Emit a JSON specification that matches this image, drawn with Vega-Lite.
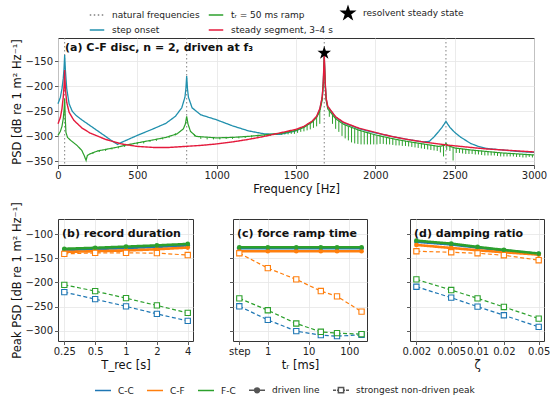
{
  "$schema": "https://vega.github.io/schema/vega-lite/v6.json",
  "padding": {"left": 10, "top": 4, "right": 0, "bottom": 0},
  "config": {
    "font": "DejaVu Sans",
    "background": "white",
    "view": {"stroke": "#333333", "strokeWidth": 1},
    "axis": {
      "labelFontSize": 10, "labelColor": "#222222", "titleFontSize": 11.5, "titleFontWeight": "normal",
      "titleColor": "#111111", "tickColor": "#333333", "tickSize": 3.5, "tickWidth": 0.8, "domain": false,
      "grid": true, "gridColor": "#e6e6e6", "gridWidth": 0.8, "labelPadding": 2, "titlePadding": 3,
      "labelFlush": false, "labelOverlap": false, "labelBound": false, "labelSeparation": 0, "tickCount": 12
    },
    "legend": {"labelFontSize": 9, "labelColor": "#222222", "symbolStrokeWidth": 1.5},
    "title": {"fontSize": 11, "fontWeight": "bold", "anchor": "start", "frame": "group", "color": "#111111", "offset": 0}
  },
  "datasets": {
    "nat": [
      {"s": "nat", "f": 42}, {"s": "nat", "f": 811}, {"s": "nat", "f": 1678}, {"s": "nat", "f": 2445}
    ],
    "star": [{"s": "star", "f": 1678, "p": -134}],
    "psd": [
      {"s": "step", "f": 0, "p": -235}, {"s": "step", "f": 15, "p": -222}, {"s": "step", "f": 25, "p": -205},
      {"s": "step", "f": 33, "p": -185}, {"s": "step", "f": 38, "p": -165}, {"s": "step", "f": 41, "p": -145},
      {"s": "step", "f": 42, "p": -138}, {"s": "step", "f": 43, "p": -145}, {"s": "step", "f": 47, "p": -170},
      {"s": "step", "f": 55, "p": -205}, {"s": "step", "f": 70, "p": -235}, {"s": "step", "f": 90, "p": -250},
      {"s": "step", "f": 113, "p": -258}, {"s": "step", "f": 150, "p": -267}, {"s": "step", "f": 200, "p": -278},
      {"s": "step", "f": 250, "p": -289}, {"s": "step", "f": 300, "p": -300}, {"s": "step", "f": 340, "p": -309},
      {"s": "step", "f": 375, "p": -316}, {"s": "step", "f": 400, "p": -312}, {"s": "step", "f": 450, "p": -305},
      {"s": "step", "f": 500, "p": -298}, {"s": "step", "f": 600, "p": -285}, {"s": "step", "f": 680, "p": -274},
      {"s": "step", "f": 740, "p": -260}, {"s": "step", "f": 780, "p": -243}, {"s": "step", "f": 800, "p": -222},
      {"s": "step", "f": 806, "p": -205}, {"s": "step", "f": 811, "p": -180}, {"s": "step", "f": 816, "p": -205},
      {"s": "step", "f": 822, "p": -222}, {"s": "step", "f": 845, "p": -243}, {"s": "step", "f": 900, "p": -257},
      {"s": "step", "f": 1000, "p": -267}, {"s": "step", "f": 1100, "p": -279}, {"s": "step", "f": 1200, "p": -289},
      {"s": "step", "f": 1300, "p": -295}, {"s": "step", "f": 1400, "p": -296}, {"s": "step", "f": 1500, "p": -289},
      {"s": "step", "f": 1550, "p": -281}, {"s": "step", "f": 1600, "p": -271}, {"s": "step", "f": 1630, "p": -261},
      {"s": "step", "f": 1650, "p": -246}, {"s": "step", "f": 1665, "p": -223}, {"s": "step", "f": 1672, "p": -193},
      {"s": "step", "f": 1678, "p": -140}, {"s": "step", "f": 1684, "p": -193}, {"s": "step", "f": 1690, "p": -225},
      {"s": "step", "f": 1700, "p": -241}, {"s": "step", "f": 1750, "p": -262}, {"s": "step", "f": 1800, "p": -273},
      {"s": "step", "f": 1900, "p": -285}, {"s": "step", "f": 2000, "p": -293}, {"s": "step", "f": 2100, "p": -300},
      {"s": "step", "f": 2200, "p": -306}, {"s": "step", "f": 2300, "p": -311}, {"s": "step", "f": 2340, "p": -310},
      {"s": "step", "f": 2370, "p": -301}, {"s": "step", "f": 2400, "p": -290}, {"s": "step", "f": 2420, "p": -282},
      {"s": "step", "f": 2435, "p": -275}, {"s": "step", "f": 2445, "p": -270}, {"s": "step", "f": 2455, "p": -275},
      {"s": "step", "f": 2470, "p": -282}, {"s": "step", "f": 2500, "p": -292}, {"s": "step", "f": 2540, "p": -302},
      {"s": "step", "f": 2600, "p": -314}, {"s": "step", "f": 2650, "p": -320}, {"s": "step", "f": 2700, "p": -324},
      {"s": "step", "f": 2800, "p": -327}, {"s": "step", "f": 2900, "p": -330}, {"s": "step", "f": 3000, "p": -332},

      {"s": "ramp", "f": 0, "p": -298}, {"s": "ramp", "f": 15, "p": -290}, {"s": "ramp", "f": 25, "p": -280},
      {"s": "ramp", "f": 33, "p": -265}, {"s": "ramp", "f": 38, "p": -248}, {"s": "ramp", "f": 41, "p": -232},
      {"s": "ramp", "f": 42, "p": -225}, {"s": "ramp", "f": 43, "p": -235}, {"s": "ramp", "f": 46, "p": -265},
      {"s": "ramp", "f": 50, "p": -292}, {"s": "ramp", "f": 60, "p": -302}, {"s": "ramp", "f": 80, "p": -308},
      {"s": "ramp", "f": 120, "p": -318}, {"s": "ramp", "f": 150, "p": -328}, {"s": "ramp", "f": 165, "p": -338},
      {"s": "ramp", "f": 177, "p": -348}, {"s": "ramp", "f": 185, "p": -338}, {"s": "ramp", "f": 200, "p": -335},
      {"s": "ramp", "f": 250, "p": -329}, {"s": "ramp", "f": 300, "p": -326}, {"s": "ramp", "f": 365, "p": -322},
      {"s": "ramp", "f": 450, "p": -316}, {"s": "ramp", "f": 500, "p": -313}, {"s": "ramp", "f": 600, "p": -307},
      {"s": "ramp", "f": 680, "p": -302}, {"s": "ramp", "f": 750, "p": -295}, {"s": "ramp", "f": 790, "p": -285},
      {"s": "ramp", "f": 803, "p": -275}, {"s": "ramp", "f": 811, "p": -260}, {"s": "ramp", "f": 819, "p": -275},
      {"s": "ramp", "f": 835, "p": -290}, {"s": "ramp", "f": 870, "p": -300}, {"s": "ramp", "f": 1000, "p": -303},
      {"s": "ramp", "f": 1100, "p": -302}, {"s": "ramp", "f": 1200, "p": -300}, {"s": "ramp", "f": 1300, "p": -297},
      {"s": "ramp", "f": 1400, "p": -294}, {"s": "ramp", "f": 1500, "p": -288}, {"s": "ramp", "f": 1550, "p": -282},
      {"s": "ramp", "f": 1600, "p": -272}, {"s": "ramp", "f": 1630, "p": -262}, {"s": "ramp", "f": 1650, "p": -250},
      {"s": "ramp", "f": 1665, "p": -228}, {"s": "ramp", "f": 1672, "p": -195}, {"s": "ramp", "f": 1678, "p": -141},
      {"s": "ramp", "f": 1684, "p": -195}, {"s": "ramp", "f": 1690, "p": -228}, {"s": "ramp", "f": 1700, "p": -245},
      {"s": "ramp", "f": 1750, "p": -265}, {"s": "ramp", "f": 1800, "p": -276}, {"s": "ramp", "f": 1900, "p": -288},
      {"s": "ramp", "f": 2000, "p": -297}, {"s": "ramp", "f": 2100, "p": -304}, {"s": "ramp", "f": 2200, "p": -310},
      {"s": "ramp", "f": 2300, "p": -315}, {"s": "ramp", "f": 2400, "p": -320}, {"s": "ramp", "f": 2435, "p": -318},
      {"s": "ramp", "f": 2445, "p": -314}, {"s": "ramp", "f": 2455, "p": -318}, {"s": "ramp", "f": 2500, "p": -323},
      {"s": "ramp", "f": 2600, "p": -327}, {"s": "ramp", "f": 2700, "p": -330}, {"s": "ramp", "f": 2800, "p": -333},
      {"s": "ramp", "f": 2900, "p": -335}, {"s": "ramp", "f": 3000, "p": -337},

      {"s": "steady", "f": 0, "p": -275}, {"s": "steady", "f": 15, "p": -262}, {"s": "steady", "f": 25, "p": -245},
      {"s": "steady", "f": 33, "p": -222}, {"s": "steady", "f": 38, "p": -200}, {"s": "steady", "f": 41, "p": -180},
      {"s": "steady", "f": 42, "p": -168}, {"s": "steady", "f": 43, "p": -180}, {"s": "steady", "f": 47, "p": -207},
      {"s": "steady", "f": 55, "p": -232}, {"s": "steady", "f": 70, "p": -252}, {"s": "steady", "f": 100, "p": -268},
      {"s": "steady", "f": 150, "p": -283}, {"s": "steady", "f": 200, "p": -293}, {"s": "steady", "f": 300, "p": -306},
      {"s": "steady", "f": 400, "p": -315}, {"s": "steady", "f": 500, "p": -320}, {"s": "steady", "f": 600, "p": -322},
      {"s": "steady", "f": 700, "p": -322}, {"s": "steady", "f": 800, "p": -320}, {"s": "steady", "f": 900, "p": -318},
      {"s": "steady", "f": 1000, "p": -315}, {"s": "steady", "f": 1100, "p": -311}, {"s": "steady", "f": 1200, "p": -306},
      {"s": "steady", "f": 1300, "p": -300}, {"s": "steady", "f": 1400, "p": -293}, {"s": "steady", "f": 1500, "p": -286},
      {"s": "steady", "f": 1550, "p": -280}, {"s": "steady", "f": 1600, "p": -270}, {"s": "steady", "f": 1630, "p": -260},
      {"s": "steady", "f": 1650, "p": -245}, {"s": "steady", "f": 1665, "p": -222}, {"s": "steady", "f": 1672, "p": -192},
      {"s": "steady", "f": 1678, "p": -138}, {"s": "steady", "f": 1684, "p": -192}, {"s": "steady", "f": 1690, "p": -224},
      {"s": "steady", "f": 1700, "p": -240}, {"s": "steady", "f": 1750, "p": -261}, {"s": "steady", "f": 1800, "p": -272},
      {"s": "steady", "f": 1900, "p": -284}, {"s": "steady", "f": 2000, "p": -292}, {"s": "steady", "f": 2100, "p": -300},
      {"s": "steady", "f": 2200, "p": -306}, {"s": "steady", "f": 2300, "p": -311}, {"s": "steady", "f": 2445, "p": -317},
      {"s": "steady", "f": 2600, "p": -322}, {"s": "steady", "f": 2700, "p": -325}, {"s": "steady", "f": 2800, "p": -327},
      {"s": "steady", "f": 2900, "p": -329}, {"s": "steady", "f": 3000, "p": -331}
    ],
    "teeth": [
      {"f": 220, "t": -332, "b": -335}, {"f": 260, "t": -328, "b": -331}, {"f": 300, "t": -325, "b": -329},
      {"f": 340, "t": -323, "b": -326}, {"f": 380, "t": -320, "b": -324}, {"f": 420, "t": -317, "b": -321},
      {"f": 460, "t": -315, "b": -319}, {"f": 500, "t": -312, "b": -316}, {"f": 540, "t": -310, "b": -314},
      {"f": 580, "t": -307, "b": -311}, {"f": 620, "t": -305, "b": -309}, {"f": 660, "t": -302, "b": -306},
      {"f": 700, "t": -299, "b": -303}, {"f": 740, "t": -294, "b": -298}, {"f": 860, "t": -296, "b": -300},
      {"f": 900, "t": -301, "b": -305}, {"f": 940, "t": -302, "b": -306}, {"f": 980, "t": -302, "b": -306},
      {"f": 1020, "t": -302, "b": -306}, {"f": 1060, "t": -301, "b": -305}, {"f": 1100, "t": -301, "b": -305},
      {"f": 1140, "t": -300, "b": -304}, {"f": 1180, "t": -299, "b": -303}, {"f": 1220, "t": -298, "b": -302},
      {"f": 1260, "t": -297, "b": -301}, {"f": 1300, "t": -296, "b": -300}, {"f": 1340, "t": -295, "b": -299},
      {"f": 1380, "t": -293, "b": -297},
      {"f": 1410, "t": -293, "b": -297}, {"f": 1430, "t": -292, "b": -296}, {"f": 1450, "t": -291, "b": -296},
      {"f": 1470, "t": -290, "b": -295}, {"f": 1490, "t": -289, "b": -295}, {"f": 1510, "t": -287, "b": -293},
      {"f": 1530, "t": -284, "b": -291}, {"f": 1550, "t": -282, "b": -290}, {"f": 1570, "t": -278, "b": -288},
      {"f": 1590, "t": -274, "b": -286}, {"f": 1610, "t": -269, "b": -283}, {"f": 1630, "t": -262, "b": -280},
      {"f": 1650, "t": -250, "b": -275}, {"f": 1710, "t": -249, "b": -261}, {"f": 1730, "t": -257, "b": -275},
      {"f": 1750, "t": -265, "b": -285}, {"f": 1770, "t": -269, "b": -291}, {"f": 1790, "t": -274, "b": -299},
      {"f": 1810, "t": -277, "b": -304}, {"f": 1830, "t": -280, "b": -308}, {"f": 1850, "t": -282, "b": -312},
      {"f": 1870, "t": -284, "b": -314}, {"f": 1890, "t": -287, "b": -315}, {"f": 1910, "t": -289, "b": -316},
      {"f": 1930, "t": -291, "b": -316}, {"f": 1950, "t": -292, "b": -316}, {"f": 1970, "t": -294, "b": -316},
      {"f": 1990, "t": -296, "b": -316}, {"f": 2010, "t": -298, "b": -316}, {"f": 2030, "t": -299, "b": -315},
      {"f": 2050, "t": -300, "b": -315}, {"f": 2070, "t": -302, "b": -316}, {"f": 2090, "t": -303, "b": -316},
      {"f": 2110, "t": -305, "b": -317}, {"f": 2130, "t": -306, "b": -318}, {"f": 2150, "t": -307, "b": -318},
      {"f": 2170, "t": -308, "b": -319}, {"f": 2190, "t": -309, "b": -319}, {"f": 2210, "t": -310, "b": -320},
      {"f": 2230, "t": -311, "b": -321}, {"f": 2250, "t": -312, "b": -322}, {"f": 2270, "t": -313, "b": -323},
      {"f": 2290, "t": -314, "b": -324}, {"f": 2310, "t": -315, "b": -325}, {"f": 2330, "t": -316, "b": -326},
      {"f": 2350, "t": -317, "b": -327}, {"f": 2370, "t": -318, "b": -328}, {"f": 2390, "t": -319, "b": -329},
      {"f": 2410, "t": -320, "b": -332}, {"f": 2430, "t": -318, "b": -340}, {"f": 2450, "t": -315, "b": -327},
      {"f": 2470, "t": -319, "b": -329}, {"f": 2490, "t": -322, "b": -348}, {"f": 2510, "t": -323, "b": -333},
      {"f": 2530, "t": -324, "b": -333}, {"f": 2550, "t": -325, "b": -334}, {"f": 2570, "t": -326, "b": -335},
      {"f": 2590, "t": -326, "b": -335}, {"f": 2610, "t": -327, "b": -335}, {"f": 2630, "t": -328, "b": -336},
      {"f": 2650, "t": -328, "b": -336}, {"f": 2670, "t": -329, "b": -337}, {"f": 2690, "t": -330, "b": -338},
      {"f": 2710, "t": -330, "b": -338}, {"f": 2730, "t": -331, "b": -338}, {"f": 2750, "t": -331, "b": -338},
      {"f": 2770, "t": -332, "b": -339}, {"f": 2790, "t": -333, "b": -340}, {"f": 2810, "t": -333, "b": -340},
      {"f": 2830, "t": -334, "b": -340}, {"f": 2850, "t": -334, "b": -340}, {"f": 2870, "t": -334, "b": -340},
      {"f": 2890, "t": -335, "b": -341}, {"f": 2910, "t": -335, "b": -341}, {"f": 2930, "t": -336, "b": -342},
      {"f": 2950, "t": -336, "b": -342}, {"f": 2970, "t": -336, "b": -341}, {"f": 2990, "t": -337, "b": -342}
    ],
    "peaks": [
      {"p": "b", "c": "C-C", "k": "d", "x": 0.25, "y": -133}, {"p": "b", "c": "C-C", "k": "d", "x": 0.5, "y": -131},
      {"p": "b", "c": "C-C", "k": "d", "x": 1, "y": -129}, {"p": "b", "c": "C-C", "k": "d", "x": 2, "y": -126.5},
      {"p": "b", "c": "C-C", "k": "d", "x": 4, "y": -123.5},
      {"p": "b", "c": "C-C", "k": "n", "x": 0.25, "y": -220}, {"p": "b", "c": "C-C", "k": "n", "x": 0.5, "y": -234.5},
      {"p": "b", "c": "C-C", "k": "n", "x": 1, "y": -249.5}, {"p": "b", "c": "C-C", "k": "n", "x": 2, "y": -265},
      {"p": "b", "c": "C-C", "k": "n", "x": 4, "y": -279.5},
      {"p": "b", "c": "C-F", "k": "d", "x": 0.25, "y": -137}, {"p": "b", "c": "C-F", "k": "d", "x": 0.5, "y": -135.5},
      {"p": "b", "c": "C-F", "k": "d", "x": 1, "y": -134}, {"p": "b", "c": "C-F", "k": "d", "x": 2, "y": -131.5},
      {"p": "b", "c": "C-F", "k": "d", "x": 4, "y": -128},
      {"p": "b", "c": "C-F", "k": "n", "x": 0.25, "y": -141}, {"p": "b", "c": "C-F", "k": "n", "x": 0.5, "y": -139},
      {"p": "b", "c": "C-F", "k": "n", "x": 1, "y": -139}, {"p": "b", "c": "C-F", "k": "n", "x": 2, "y": -139.5},
      {"p": "b", "c": "C-F", "k": "n", "x": 4, "y": -143.5},
      {"p": "b", "c": "F-C", "k": "d", "x": 0.25, "y": -130.5}, {"p": "b", "c": "F-C", "k": "d", "x": 0.5, "y": -128.5},
      {"p": "b", "c": "F-C", "k": "d", "x": 1, "y": -126}, {"p": "b", "c": "F-C", "k": "d", "x": 2, "y": -123.5},
      {"p": "b", "c": "F-C", "k": "d", "x": 4, "y": -120.5},
      {"p": "b", "c": "F-C", "k": "n", "x": 0.25, "y": -205}, {"p": "b", "c": "F-C", "k": "n", "x": 0.5, "y": -218},
      {"p": "b", "c": "F-C", "k": "n", "x": 1, "y": -232.5}, {"p": "b", "c": "F-C", "k": "n", "x": 2, "y": -247.5},
      {"p": "b", "c": "F-C", "k": "n", "x": 4, "y": -263},

      {"p": "c", "c": "C-C", "k": "d", "x": 0.2, "y": -129.5}, {"p": "c", "c": "C-C", "k": "d", "x": 1, "y": -129.5},
      {"p": "c", "c": "C-C", "k": "d", "x": 5, "y": -129.5}, {"p": "c", "c": "C-C", "k": "d", "x": 20, "y": -129.5},
      {"p": "c", "c": "C-C", "k": "d", "x": 50, "y": -129.5}, {"p": "c", "c": "C-C", "k": "d", "x": 200, "y": -129.5},
      {"p": "c", "c": "C-C", "k": "n", "x": 0.2, "y": -249.3}, {"p": "c", "c": "C-C", "k": "n", "x": 1, "y": -277.4},
      {"p": "c", "c": "C-C", "k": "n", "x": 5, "y": -300.7}, {"p": "c", "c": "C-C", "k": "n", "x": 20, "y": -308.9},
      {"p": "c", "c": "C-C", "k": "n", "x": 50, "y": -311}, {"p": "c", "c": "C-C", "k": "n", "x": 200, "y": -308.2},
      {"p": "c", "c": "C-F", "k": "d", "x": 0.2, "y": -135.6}, {"p": "c", "c": "C-F", "k": "d", "x": 1, "y": -135.6},
      {"p": "c", "c": "C-F", "k": "d", "x": 5, "y": -135.6}, {"p": "c", "c": "C-F", "k": "d", "x": 20, "y": -135.6},
      {"p": "c", "c": "C-F", "k": "d", "x": 50, "y": -135.6}, {"p": "c", "c": "C-F", "k": "d", "x": 200, "y": -135.6},
      {"p": "c", "c": "C-F", "k": "n", "x": 0.2, "y": -139.7}, {"p": "c", "c": "C-F", "k": "n", "x": 1, "y": -170.5},
      {"p": "c", "c": "C-F", "k": "n", "x": 5, "y": -193.8}, {"p": "c", "c": "C-F", "k": "n", "x": 20, "y": -217.8},
      {"p": "c", "c": "C-F", "k": "n", "x": 50, "y": -228.8}, {"p": "c", "c": "C-F", "k": "n", "x": 200, "y": -260.3},
      {"p": "c", "c": "F-C", "k": "d", "x": 0.2, "y": -127.4}, {"p": "c", "c": "F-C", "k": "d", "x": 1, "y": -127.4},
      {"p": "c", "c": "F-C", "k": "d", "x": 5, "y": -127.4}, {"p": "c", "c": "F-C", "k": "d", "x": 20, "y": -127.4},
      {"p": "c", "c": "F-C", "k": "d", "x": 50, "y": -127.4}, {"p": "c", "c": "F-C", "k": "d", "x": 200, "y": -127.4},
      {"p": "c", "c": "F-C", "k": "n", "x": 0.2, "y": -232.9}, {"p": "c", "c": "F-C", "k": "n", "x": 1, "y": -257.5},
      {"p": "c", "c": "F-C", "k": "n", "x": 5, "y": -284.9}, {"p": "c", "c": "F-C", "k": "n", "x": 20, "y": -302},
      {"p": "c", "c": "F-C", "k": "n", "x": 50, "y": -304.8}, {"p": "c", "c": "F-C", "k": "n", "x": 200, "y": -306.8},

      {"p": "d", "c": "C-C", "k": "d", "x": 0.002, "y": -116}, {"p": "d", "c": "C-C", "k": "d", "x": 0.005, "y": -121.5},
      {"p": "d", "c": "C-C", "k": "d", "x": 0.01, "y": -128}, {"p": "d", "c": "C-C", "k": "d", "x": 0.02, "y": -134},
      {"p": "d", "c": "C-C", "k": "d", "x": 0.05, "y": -141},
      {"p": "d", "c": "C-C", "k": "n", "x": 0.002, "y": -208.9}, {"p": "d", "c": "C-C", "k": "n", "x": 0.005, "y": -231.5},
      {"p": "d", "c": "C-C", "k": "n", "x": 0.01, "y": -250}, {"p": "d", "c": "C-C", "k": "n", "x": 0.02, "y": -267.8},
      {"p": "d", "c": "C-C", "k": "n", "x": 0.05, "y": -291.8},
      {"p": "d", "c": "C-F", "k": "d", "x": 0.002, "y": -122.6}, {"p": "d", "c": "C-F", "k": "d", "x": 0.005, "y": -128.8},
      {"p": "d", "c": "C-F", "k": "d", "x": 0.01, "y": -133.6}, {"p": "d", "c": "C-F", "k": "d", "x": 0.02, "y": -137.7},
      {"p": "d", "c": "C-F", "k": "d", "x": 0.05, "y": -142.5},
      {"p": "d", "c": "C-F", "k": "n", "x": 0.002, "y": -135.6}, {"p": "d", "c": "C-F", "k": "n", "x": 0.005, "y": -137.7},
      {"p": "d", "c": "C-F", "k": "n", "x": 0.01, "y": -139.7}, {"p": "d", "c": "C-F", "k": "n", "x": 0.02, "y": -143.8},
      {"p": "d", "c": "C-F", "k": "n", "x": 0.05, "y": -154.1},
      {"p": "d", "c": "F-C", "k": "d", "x": 0.002, "y": -113.7}, {"p": "d", "c": "F-C", "k": "d", "x": 0.005, "y": -119.9},
      {"p": "d", "c": "F-C", "k": "d", "x": 0.01, "y": -126.7}, {"p": "d", "c": "F-C", "k": "d", "x": 0.02, "y": -132.9},
      {"p": "d", "c": "F-C", "k": "d", "x": 0.05, "y": -140.4},
      {"p": "d", "c": "F-C", "k": "n", "x": 0.002, "y": -193.8}, {"p": "d", "c": "F-C", "k": "n", "x": 0.005, "y": -215.8},
      {"p": "d", "c": "F-C", "k": "n", "x": 0.01, "y": -232.9}, {"p": "d", "c": "F-C", "k": "n", "x": 0.02, "y": -250.7},
      {"p": "d", "c": "F-C", "k": "n", "x": 0.05, "y": -274.7}
    ],
    "kinds": [{"p": "d", "c": "driven line"}, {"p": "d", "c": "strongest non-driven peak"}]
  },
  "resolve": {"scale": {"color": "independent", "shape": "independent", "strokeDash": "independent", "strokeWidth": "independent"}},
  "spacing": 5,
  "vconcat": [
    {
      "width": 476,
      "height": 127,
      "title": {"text": "(a) C-F disc, n = 2, driven at f₃", "dx": 7, "dy": 52},
      "layer": [
        {
          "data": {"name": "nat"},
          "mark": {"type": "rule", "strokeWidth": 1},
          "encoding": {
            "x": {"field": "f", "type": "quantitative", "scale": {"domain": [0, 3000], "nice": false},
                  "axis": {"values": [0, 500, 1000, 1500, 2000, 2500, 3000], "format": "d", "title": "Frequency [Hz]", "tickCount": 12}},
            "color": {"field": "s", "type": "nominal",
                      "scale": {"domain": ["nat", "ramp", "star", "step", "steady"], "range": ["#808080", "#2ca02c", "#000000", "#2190ad", "#e41a3c"]},
                      "legend": {"orient": "none", "legendX": 31, "legendY": -33, "title": null, "columns": 3, "direction": "horizontal", "symbolSize": 210,
                                 "symbolFillColor": "#000000", "symbolOpacity": 1, "columnPadding": 5, "rowPadding": 0, "labelOffset": 7,
                                 "labelExpr": "datum.value == 'nat' ? 'natural frequencies' : datum.value == 'ramp' ? 'tᵣ = 50 ms ramp' : datum.value == 'star' ? 'resolvent steady state' : datum.value == 'step' ? 'step onset' : 'steady segment, 3–4 s'"}},
            "strokeDash": {"field": "s", "type": "nominal",
                           "scale": {"domain": ["nat", "ramp", "star", "step", "steady"], "range": [[1.5, 2.5], [1, 0], [1, 0], [1, 0], [1, 0]]}}
          }
        },
        {
          "data": {"name": "psd"},
          "transform": [{"filter": "datum.s == 'step'"}],
          "mark": {"type": "line", "strokeWidth": 1.3},
          "encoding": {
            "x": {"field": "f", "type": "quantitative"},
            "y": {"field": "p", "type": "quantitative", "scale": {"domain": [-357, -104], "nice": false},
                  "axis": {"values": [-350, -300, -250, -200, -150], "title": "PSD [dB re 1 m² Hz⁻¹]", "tickCount": 12}},
            "color": {"field": "s", "type": "nominal"},
            "strokeDash": {"field": "s", "type": "nominal"}
          }
        },
        {
          "data": {"name": "psd"},
          "transform": [{"filter": "datum.s == 'ramp'"}],
          "mark": {"type": "line", "strokeWidth": 1.2},
          "encoding": {
            "x": {"field": "f", "type": "quantitative"},
            "y": {"field": "p", "type": "quantitative"},
            "color": {"field": "s", "type": "nominal"},
            "strokeDash": {"field": "s", "type": "nominal"}
          }
        },
        {
          "data": {"name": "teeth"},
          "mark": {"type": "rule", "strokeWidth": 1, "color": "#2ca02c"},
          "encoding": {
            "x": {"field": "f", "type": "quantitative"},
            "y": {"field": "t", "type": "quantitative"},
            "y2": {"field": "b"}
          }
        },
        {
          "data": {"name": "psd"},
          "transform": [{"filter": "datum.s == 'steady'"}],
          "mark": {"type": "line", "strokeWidth": 1.4},
          "encoding": {
            "x": {"field": "f", "type": "quantitative"},
            "y": {"field": "p", "type": "quantitative"},
            "color": {"field": "s", "type": "nominal"},
            "strokeDash": {"field": "s", "type": "nominal"}
          }
        },
        {
          "data": {"name": "star"},
          "mark": {"type": "point", "filled": true, "size": 250, "opacity": 1},
          "encoding": {
            "x": {"field": "f", "type": "quantitative"},
            "y": {"field": "p", "type": "quantitative"},
            "color": {"field": "s", "type": "nominal"},
            "shape": {"field": "s", "type": "nominal",
                      "scale": {"domain": ["nat", "ramp", "star", "step", "steady"],
                                "range": ["stroke", "stroke", "M0,-0.9L0.202,-0.278L0.856,-0.278L0.327,0.106L0.529,0.728L0,0.344L-0.529,0.728L-0.327,0.106L-0.856,-0.278L-0.202,-0.278Z", "stroke", "stroke"]}}
          }
        }
      ]
    },
    {
      "spacing": 33,
      "hconcat": [
        {
          "width": 135,
          "height": 122,
          "title": {"text": "(b) record duration", "dx": 4, "dy": 41},
          "layer": [
            {
              "data": {"name": "peaks"},
              "transform": [{"filter": "datum.p == 'b'"}],
              "mark": {"type": "line"},
              "encoding": {
                "x": {"field": "x", "type": "quantitative", "scale": {"type": "log", "base": 2, "domain": [0.217, 4.5], "nice": false},
                      "axis": {"values": [0.25, 0.5, 1, 2, 4], "format": "~g", "title": "T_rec [s]", "tickCount": 12}},
                "y": {"field": "y", "type": "quantitative", "scale": {"domain": [-321, -69], "nice": false},
                      "axis": {"values": [-300, -250, -200, -150, -100], "title": "Peak PSD [dB re 1 m² Hz⁻¹]", "tickCount": 12}},
                "color": {"field": "c", "type": "nominal",
                          "scale": {"domain": ["C-C", "C-F", "F-C", "driven line", "strongest non-driven peak"],
                                    "range": ["#1f77b4", "#ff7f0e", "#2ca02c", "#555555", "#555555"]},
                          "legend": {"orient": "none", "legendX": 36, "legendY": 162, "title": null, "direction": "horizontal", "symbolSize": 256,
                                     "symbolFillColor": "#555555", "symbolOpacity": 1, "columnPadding": 10, "labelOffset": 6}},
                "strokeDash": {"field": "k", "type": "nominal", "scale": {"domain": ["d", "n"], "range": [[1, 0], [4, 2.5]]}, "legend": null},
                "strokeWidth": {"field": "k", "type": "ordinal", "scale": {"domain": ["d", "n"], "range": [2.6, 1.2]}, "legend": null}
              }
            },
            {
              "data": {"name": "peaks"},
              "transform": [{"filter": "datum.p == 'b' && datum.k == 'd'"}],
              "mark": {"type": "point", "shape": "circle", "filled": true, "size": 22, "opacity": 1},
              "encoding": {
                "x": {"field": "x", "type": "quantitative"},
                "y": {"field": "y", "type": "quantitative"},
                "color": {"field": "c", "type": "nominal"}
              }
            },
            {
              "data": {"name": "peaks"},
              "transform": [{"filter": "datum.p == 'b' && datum.k == 'n'"}],
              "mark": {"type": "point", "shape": "square", "filled": false, "fill": "white", "size": 28, "strokeWidth": 1.1, "opacity": 1},
              "encoding": {
                "x": {"field": "x", "type": "quantitative"},
                "y": {"field": "y", "type": "quantitative"},
                "color": {"field": "c", "type": "nominal"}
              }
            }
          ]
        },
        {
          "width": 134,
          "height": 122,
          "title": {"text": "(c) force ramp time", "dx": 4, "dy": 24},
          "layer": [
            {
              "data": {"name": "peaks"},
              "transform": [{"filter": "datum.p == 'c'"}],
              "mark": {"type": "line"},
              "encoding": {
                "x": {"field": "x", "type": "quantitative", "scale": {"type": "log", "domain": [0.14, 272], "nice": false},
                      "axis": {"values": [0.2, 1, 10, 100], "format": "~g", "labelExpr": "datum.value < 0.5 ? 'step' : datum.label", "title": "tᵣ [ms]", "tickCount": 12}},
                "y": {"field": "y", "type": "quantitative", "scale": {"domain": [-321, -69], "nice": false},
                      "axis": {"values": [-300, -250, -200, -150, -100], "labels": false, "title": null, "tickCount": 12}},
                "color": {"field": "c", "type": "nominal"},
                "strokeDash": {"field": "k", "type": "nominal", "legend": null},
                "strokeWidth": {"field": "k", "type": "ordinal", "legend": null}
              }
            },
            {
              "data": {"name": "peaks"},
              "transform": [{"filter": "datum.p == 'c' && datum.k == 'd'"}],
              "mark": {"type": "point", "shape": "circle", "filled": true, "size": 22, "opacity": 1},
              "encoding": {
                "x": {"field": "x", "type": "quantitative"},
                "y": {"field": "y", "type": "quantitative"},
                "color": {"field": "c", "type": "nominal"}
              }
            },
            {
              "data": {"name": "peaks"},
              "transform": [{"filter": "datum.p == 'c' && datum.k == 'n'"}],
              "mark": {"type": "point", "shape": "square", "filled": false, "fill": "white", "size": 28, "strokeWidth": 1.1, "opacity": 1},
              "encoding": {
                "x": {"field": "x", "type": "quantitative"},
                "y": {"field": "y", "type": "quantitative"},
                "color": {"field": "c", "type": "nominal"}
              }
            }
          ]
        },
        {
          "width": 134,
          "height": 122,
          "title": {"text": "(d) damping ratio", "dx": 4, "dy": 24},
          "layer": [
            {
              "data": {"name": "peaks"},
              "transform": [{"filter": "datum.p == 'd'"}],
              "mark": {"type": "line"},
              "encoding": {
                "x": {"field": "x", "type": "quantitative", "scale": {"type": "log", "domain": [0.00169, 0.0575], "nice": false},
                      "axis": {"values": [0.002, 0.005, 0.01, 0.02, 0.05], "format": "~g", "title": "ζ", "tickCount": 12}},
                "y": {"field": "y", "type": "quantitative", "scale": {"domain": [-321, -69], "nice": false},
                      "axis": {"values": [-300, -250, -200, -150, -100], "labels": false, "title": null, "tickCount": 12}},
                "color": {"field": "c", "type": "nominal"},
                "strokeDash": {"field": "k", "type": "nominal", "legend": null},
                "strokeWidth": {"field": "k", "type": "ordinal", "legend": null}
              }
            },
            {
              "data": {"name": "peaks"},
              "transform": [{"filter": "datum.p == 'd' && datum.k == 'd'"}],
              "mark": {"type": "point", "shape": "circle", "filled": true, "size": 22, "opacity": 1},
              "encoding": {
                "x": {"field": "x", "type": "quantitative"},
                "y": {"field": "y", "type": "quantitative"},
                "color": {"field": "c", "type": "nominal"}
              }
            },
            {
              "data": {"name": "peaks"},
              "transform": [{"filter": "datum.p == 'd' && datum.k == 'n'"}],
              "mark": {"type": "point", "shape": "square", "filled": false, "fill": "white", "size": 28, "strokeWidth": 1.1, "opacity": 1},
              "encoding": {
                "x": {"field": "x", "type": "quantitative"},
                "y": {"field": "y", "type": "quantitative"},
                "color": {"field": "c", "type": "nominal"}
              }
            },
            {
              "data": {"name": "kinds"},
              "mark": {"type": "point", "opacity": 0},
              "encoding": {
                "shape": {"field": "c", "type": "nominal",
                          "scale": {"domain": ["C-C", "C-F", "F-C", "driven line", "strongest non-driven peak"],
                                    "range": ["stroke", "stroke", "stroke",
                                              "M-1,0L1,0M-0.3,0A0.3,0.3,0,1,1,0.3,0A0.3,0.3,0,1,1,-0.3,0Z",
                                              "M-1,0L-0.62,0M-0.5,0L-0.36,0M0.36,0L0.5,0M0.62,0L1,0M-0.33,-0.33L0.33,-0.33L0.33,0.33L-0.33,0.33ZM-0.33,-0.33L-0.33,0.33L0.33,0.33L0.33,-0.33Z"]}}
              }
            }
          ]
        }
      ]
    }
  ]
}
